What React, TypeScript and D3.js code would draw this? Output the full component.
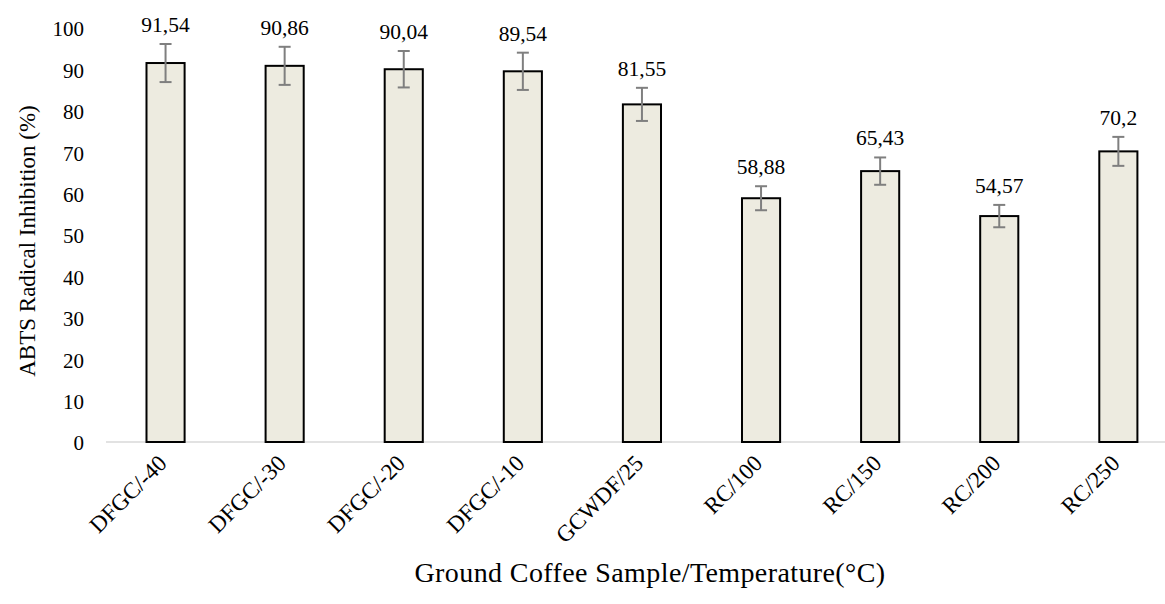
import React, { useEffect, useRef } from 'react'
import * as d3 from 'd3'

const categories = ['DFGC/-40', 'DFGC/-30', 'DFGC/-20', 'DFGC/-10', 'GCWDF/25', 'RC/100', 'RC/150', 'RC/200', 'RC/250']
const values = [91.54, 90.86, 90.04, 89.54, 81.55, 58.88, 65.43, 54.57, 70.2]
const errors = [4.6, 4.6, 4.4, 4.5, 4.0, 2.9, 3.3, 2.7, 3.5]
const yTicks = [0, 10, 20, 30, 40, 50, 60, 70, 80, 90, 100]

const WIDTH = 1165
const HEIGHT = 604
const FONT = 'Liberation Serif, Times New Roman, DejaVu Serif, serif'

const App: React.FC = () => {
  const svgRef = useRef<SVGSVGElement>(null)

  useEffect(() => {
    if (!svgRef.current) return
    const svg = d3.select(svgRef.current)
    svg.selectAll('*').remove()

    const margin = { left: 106, top: 28, bottom: 442 }
    const step = 119.1
    const x = d3.scaleBand<string>()
      .domain(categories)
      .range([margin.left, margin.left + step * categories.length])
      .paddingInner(0.68)
      .paddingOuter(0.34)
    const y = d3.scaleLinear().domain([0, 100]).range([margin.bottom, margin.top])

    // y tick labels
    svg.append('g')
      .selectAll('text')
      .data(yTicks)
      .join('text')
      .attr('x', 84)
      .attr('y', d => y(d) + 1)
      .attr('dy', '0.35em')
      .attr('text-anchor', 'end')
      .attr('font-family', FONT)
      .attr('font-size', 21)
      .attr('fill', '#000')
      .text(d => d)

    // baseline
    svg.append('line')
      .attr('x1', margin.left)
      .attr('x2', WIDTH)
      .attr('y1', y(0))
      .attr('y2', y(0))
      .attr('stroke', '#d9d9d9')
      .attr('stroke-width', 1.5)

    // bars
    svg.append('g')
      .selectAll('rect')
      .data(values)
      .join('rect')
      .attr('x', (d, i) => x(categories[i])!)
      .attr('y', d => y(d))
      .attr('width', x.bandwidth())
      .attr('height', d => y(0) - y(d))
      .attr('fill', '#edebe0')
      .attr('stroke', '#000')
      .attr('stroke-width', 2)

    // error bars
    const eb = svg.append('g')
      .selectAll('g')
      .data(values)
      .join('g')
      .attr('stroke', '#7f7f7f')
      .attr('stroke-width', 2)
    const cx = (i: number) => x(categories[i])! + x.bandwidth() / 2
    eb.append('line')
      .attr('x1', (d, i) => cx(i))
      .attr('x2', (d, i) => cx(i))
      .attr('y1', (d, i) => y(d + errors[i]))
      .attr('y2', (d, i) => y(d - errors[i]))
    eb.append('line')
      .attr('x1', (d, i) => cx(i) - 6)
      .attr('x2', (d, i) => cx(i) + 6)
      .attr('y1', (d, i) => y(d + errors[i]))
      .attr('y2', (d, i) => y(d + errors[i]))
    eb.append('line')
      .attr('x1', (d, i) => cx(i) - 6)
      .attr('x2', (d, i) => cx(i) + 6)
      .attr('y1', (d, i) => y(d - errors[i]))
      .attr('y2', (d, i) => y(d - errors[i]))

    // data labels
    svg.append('g')
      .selectAll('text')
      .data(values)
      .join('text')
      .attr('x', (d, i) => cx(i))
      .attr('y', (d, i) => y(d + errors[i]) - 12)
      .attr('text-anchor', 'middle')
      .attr('font-family', FONT)
      .attr('font-size', 21.5)
      .attr('fill', '#000')
      .text(d => String(d).replace('.', ','))

    // category labels
    svg.append('g')
      .selectAll('text')
      .data(categories)
      .join('text')
      .attr('transform', (d, i) => `translate(${cx(i) - 3}, ${y(0) + 17}) rotate(-45)`)
      .attr('text-anchor', 'end')
      .attr('dy', '0.35em')
      .attr('font-family', FONT)
      .attr('font-size', 23)
      .attr('fill', '#000')
      .text(d => d)

    // axis titles
    svg.append('text')
      .attr('transform', `translate(27, ${(margin.top + margin.bottom) / 2 + 6}) rotate(-90)`)
      .attr('text-anchor', 'middle')
      .attr('dy', '0.35em')
      .attr('font-family', FONT)
      .attr('font-size', 23)
      .attr('fill', '#000')
      .text('ABTS Radical Inhibition (%)')

    svg.append('text')
      .attr('x', 650)
      .attr('y', 582)
      .attr('text-anchor', 'middle')
      .attr('font-family', FONT)
      .attr('font-size', 28)
      .attr('letter-spacing', 0.4)
      .attr('fill', '#000')
      .text('Ground Coffee Sample/Temperature(°C)')
  }, [])

  return (
    <svg
      ref={svgRef}
      width={WIDTH}
      height={HEIGHT}
      style={{ position: 'absolute', left: 0, top: 0, background: '#fff' }}
    />
  )
}

export default App
